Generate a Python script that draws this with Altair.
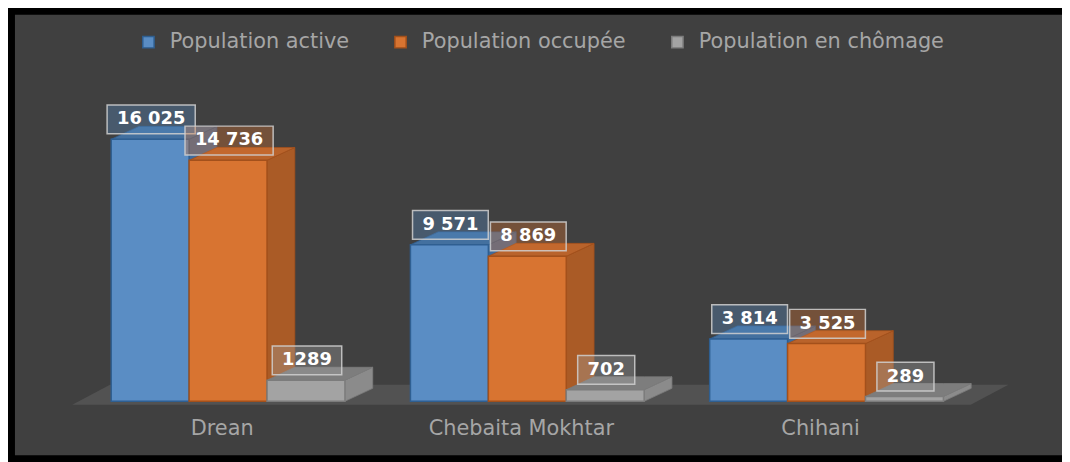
import altair as alt
import pandas as pd

# ---- data ----
categories = ["Drean", "Chebaita Mokhtar", "Chihani"]
series = ["Population active", "Population occupée", "Population en chômage"]
active = [16025, 9571, 3814]
occupee = [14736, 8869, 3525]
chomage = [1289, 702, 289]
label_active = ["16 025", "9 571", "3 814"]
label_occupee = ["14 736", "8 869", "3 525"]
label_chomage = ["1289", "702", "289"]

# ---- styles ----
front_colors = ["#5a8dc4", "#d87431", "#a3a3a3"]
edge_colors = ["#2f5f91", "#a3501b", "#7c7c7c"]
side_colors = ["#3f6b9c", "#aa5b26", "#8b8b8b"]
top_colors = ["#43709f", "#b9632b", "#7d7d7d"]
BG = "#404040"
FLOOR = "#525252"
FONT = "DejaVu Sans"

# ---- layout (pixels -> scale units) ----
W, H = 1055, 444
PX_X = 78.5          # px per bar slot
K = 0.01647          # px per value unit
X0_PX = 97           # first bar left edge in plot px
BASE_PX = 389.5      # value 0 in plot px
x_domain = [-X0_PX / PX_X, (W - X0_PX) / PX_X]
y_domain = [-(H - BASE_PX) / K, BASE_PX / K]
GROUP = 301.5 / PX_X
BAR = 1.0
DX = 28 / PX_X
DY = 13 / K

values = [active, occupee, chomage]
labels = [label_active, label_occupee, label_chomage]

fronts, sides, tops, boxes, cats = [], [], [], [], []
for g, cat in enumerate(categories):
    cats.append(dict(cat=cat, cx=g * GROUP + 1.5 * BAR))
    for s, ser in enumerate(series):
        v = values[s][g]
        x0 = g * GROUP + s * BAR
        x1 = x0 + BAR
        bid = f"{g}-{s}"
        fronts.append(dict(bar=bid, series=ser, x=x0, x2=x1, y=0, y2=v))
        sides += [
            dict(bar=bid, series=ser, x=x1, lo=0, hi=v),
            dict(bar=bid, series=ser, x=x1 + DX, lo=DY, hi=v + DY),
        ]
        tops += [
            dict(bar=bid, series=ser, x=x0, lo=v, hi=v),
            dict(bar=bid, series=ser, x=x0 + DX, lo=v, hi=v + DY),
            dict(bar=bid, series=ser, x=x1, lo=v, hi=v + DY),
            dict(bar=bid, series=ser, x=x1 + DX, lo=v + DY, hi=v + DY),
        ]
        text = labels[s][g]
        wpx = 12.5 * sum(c.isdigit() for c in text) + 6.3 * text.count(" ") + 20
        cx = (x0 + x1) / 2 + 1 / PX_X
        cy = v + 20 / K
        boxes.append(dict(series=ser, text=text, cx=cx, cy=cy,
                          bx0=cx - wpx / 2 / PX_X, bx1=cx + wpx / 2 / PX_X,
                          by0=cy - 14.5 / K, by1=cy + 14.5 / K))

# floor slab relative to the bars
fl = -0.5
fr = 2 * GROUP + 3 * BAR + 0.35
fd = 38 / PX_X
yf = -3.5 / K
yb = 16.5 / K
floor = [dict(x=fl, lo=yf, hi=yf), dict(x=fl + fd, lo=yf, hi=yb),
         dict(x=fr, lo=yf, hi=yb), dict(x=fr + fd, lo=yb, hi=yb)]

xs = alt.Scale(domain=x_domain, nice=False, zero=False)
ys = alt.Scale(domain=y_domain, nice=False, zero=False)


def X(f):
    return alt.X(f, type="quantitative", scale=xs, axis=None)


def Y(f):
    return alt.Y(f, type="quantitative", scale=ys, axis=None, stack=None)


floor_layer = alt.Chart(pd.DataFrame(floor)).mark_area(color=FLOOR).encode(
    x=X("x"), y=Y("hi"), y2="lo"
)

side_layer = alt.Chart(pd.DataFrame(sides)).mark_area(strokeWidth=0.8).encode(
    x=X("x"), y=Y("hi"), y2="lo", detail="bar:N",
    fill=alt.Fill("series:N", scale=alt.Scale(domain=series, range=side_colors), legend=None),
    stroke=alt.Stroke("series:N", scale=alt.Scale(domain=series, range=edge_colors), legend=None),
)

top_layer = alt.Chart(pd.DataFrame(tops)).mark_area(strokeWidth=0.8).encode(
    x=X("x"), y=Y("hi"), y2="lo", detail="bar:N",
    fill=alt.Fill("series:N", scale=alt.Scale(domain=series, range=top_colors), legend=None),
    stroke=alt.Stroke("series:N", scale=alt.Scale(domain=series, range=edge_colors), legend=None),
)

leg = alt.Legend(
    title=None, orient="none", legendX=124, legendY=17, direction="horizontal",
    symbolType="square", symbolSize=130, symbolStrokeWidth=1.5,
    labelFont=FONT, labelFontSize=21, labelColor="#a6a6a6", labelOffset=11,
    labelLimit=0, columnPadding=41,
)

front_layer = alt.Chart(pd.DataFrame(fronts)).mark_rect(strokeWidth=1.5).encode(
    x=X("x"), x2="x2", y=Y("y"), y2="y2",
    fill=alt.Fill("series:N", scale=alt.Scale(domain=series, range=front_colors), legend=leg),
    stroke=alt.Stroke("series:N", scale=alt.Scale(domain=series, range=edge_colors), legend=leg),
)

box_layer = alt.Chart(pd.DataFrame(boxes)).mark_rect(
    fillOpacity=0.35, stroke="#d0d0d0", strokeOpacity=0.85, strokeWidth=1.5
).encode(
    x=X("bx0"), x2="bx1", y=Y("by0"), y2="by1",
    fill=alt.Fill("series:N", scale=alt.Scale(domain=series, range=front_colors), legend=None),
)

text_layer = alt.Chart(pd.DataFrame(boxes)).mark_text(
    font=FONT, fontSize=18, fontWeight="bold", color="#ffffff",
    align="center", baseline="middle"
).encode(x=X("cx"), y=Y("cy"), text="text:N")

cat_layer = alt.Chart(pd.DataFrame(cats)).mark_text(
    font=FONT, fontSize=21, color="#a6a6a6", align="center", baseline="alphabetic", dx=-6
).encode(x=X("cx"), y=alt.value(424), text="cat:N")

chart = alt.layer(
    floor_layer, side_layer, top_layer, front_layer, box_layer, text_layer, cat_layer
).resolve_scale(
    fill="independent", stroke="independent"
).properties(
    width=W, height=H, background="#000000",
    padding={"left": 7, "top": 5, "right": 0, "bottom": 5},
    autosize=alt.AutoSizeParams(type="none"),
).configure_view(fill=BG, strokeWidth=0)

chart.save("out.html", embed_options={"renderer": "svg", "actions": False})
